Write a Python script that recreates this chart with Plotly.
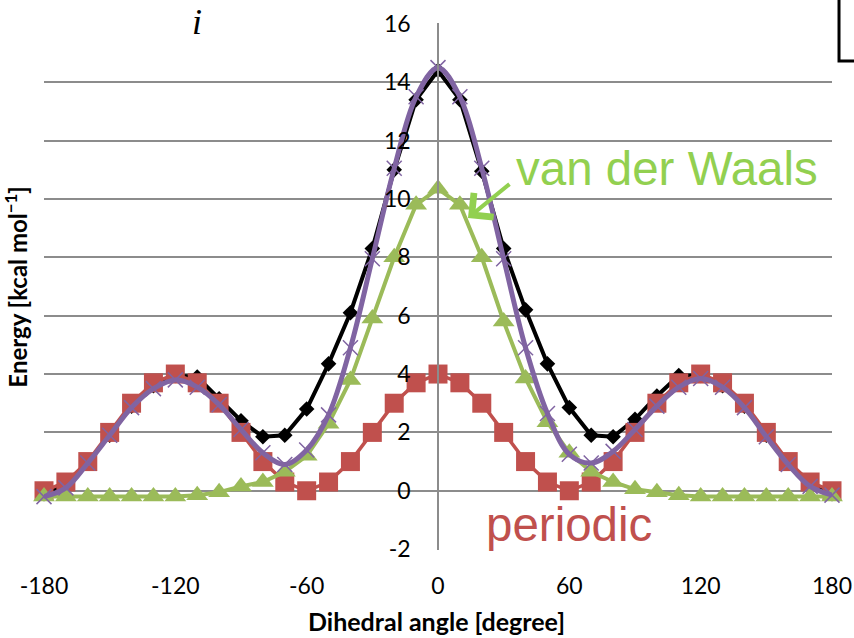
import plotly.graph_objects as go

# ---------------- data ----------------
angles = list(range(-180, 181, 10))

total = [-0.1, 0.25, 0.95, 1.9, 2.9, 3.6, 3.95, 3.9, 3.15, 2.4, 1.85, 1.9, 2.8, 4.35, 6.1, 8.3, 11.0, 13.4, 14.4,
         13.4, 10.95, 8.3, 6.2, 4.35, 2.85, 1.9, 1.85, 2.45, 3.25, 3.95, 3.95, 3.6, 2.9, 1.9, 0.95, 0.25, -0.1]

periodic = [0.0, 0.3, 1.0, 2.0, 3.0, 3.7, 4.0, 3.7, 3.0, 2.0, 1.0, 0.3, 0.0, 0.3, 1.0, 2.0, 3.0, 3.7, 4.0,
            3.7, 3.0, 2.0, 1.0, 0.3, 0.0, 0.3, 1.0, 2.0, 3.0, 3.7, 4.0, 3.7, 3.0, 2.0, 1.0, 0.3, 0.0]

vdw = [-0.2, -0.2, -0.2, -0.2, -0.2, -0.2, -0.2, -0.15, -0.05, 0.15, 0.3, 0.65, 1.2, 2.3, 3.8, 5.9, 8.0, 9.8, 10.35,
       9.8, 8.0, 5.8, 3.85, 2.35, 1.3, 0.65, 0.3, 0.05, -0.05, -0.15, -0.2, -0.2, -0.2, -0.2, -0.2, -0.2, -0.2]

fit = [-0.2, 0.1, 0.95, 1.9, 2.85, 3.5, 3.8, 3.55, 2.95, 2.1, 1.3, 0.9, 1.4, 2.6, 4.9, 7.95, 11.05, 13.5, 14.5,
       13.5, 11.05, 7.95, 4.9, 2.65, 1.25, 0.95, 1.35, 2.1, 2.9, 3.55, 3.85, 3.55, 2.85, 1.85, 0.9, 0.15, -0.15]

x_ticks = [-180, -120, -60, 0, 60, 120, 180]
y_ticks = [-2, 0, 2, 4, 6, 8, 10, 12, 14, 16]

# ---------------- style ----------------
BLACK = "#000000"
RED = "#C0504D"
GREEN = "#9BBB59"
PURPLE = "#8064A2"
LABEL_GREEN = "#92D050"
GRID = "#8C8C8C"
TICK_FONT = dict(family="Lato, Open Sans, sans-serif", size=23, color="#000000")

fig = go.Figure()

fig.add_trace(go.Scatter(
    x=angles, y=total, mode="lines+markers", cliponaxis=False,
    line=dict(color=BLACK, width=4),
    marker=dict(symbol="diamond", size=12, color=BLACK),
    showlegend=False))

fig.add_trace(go.Scatter(
    x=angles, y=periodic, mode="lines+markers", cliponaxis=False,
    line=dict(color=RED, width=3.5),
    marker=dict(symbol="square", size=19, color=RED),
    showlegend=False))

fig.add_trace(go.Scatter(
    x=angles, y=vdw, mode="lines+markers", cliponaxis=False,
    line=dict(color=GREEN, width=4),
    marker=dict(symbol="triangle-up", size=19, color=GREEN),
    showlegend=False))

fig.add_trace(go.Scatter(
    x=angles, y=fit, mode="lines+markers", cliponaxis=False,
    line=dict(color=PURPLE, width=5, shape="spline", smoothing=1.0),
    marker=dict(symbol="x-thin", size=15, color=PURPLE,
                line=dict(color=PURPLE, width=1.5)),
    showlegend=False))

fig.update_layout(
    width=854, height=638,
    margin=dict(l=44, r=22, t=23, b=88, autoexpand=False),
    paper_bgcolor="white", plot_bgcolor="white",
    xaxis=dict(range=[-180, 180], tickvals=x_ticks, ticktext=[str(v) for v in x_ticks],
               showgrid=False, zeroline=False, showline=False, ticks="",
               tickfont=TICK_FONT, ticklabelstandoff=20, automargin=False),
    yaxis=dict(range=[-2.03, 16.03], tickvals=y_ticks, ticktext=[str(v) for v in y_ticks],
               showgrid=True, gridcolor=GRID, gridwidth=2,
               zeroline=False, showline=True, linecolor=GRID, linewidth=1.5,
               anchor="free", position=0.5, ticks="",
               tickfont=TICK_FONT, ticklabelstandoff=22, automargin=False),
)

fig.add_annotation(text="<b>Energy [kcal mol<sup>−1</sup>]</b>", xref="paper", yref="paper",
                   x=-0.036, y=0.499, xanchor="center", yanchor="middle",
                   textangle=-90, showarrow=False,
                   font=dict(family="Lato, sans-serif", size=24, color="black"))
fig.add_annotation(text="<b>Dihedral angle [degree]</b>", xref="paper", yref="paper",
                   x=0.4987, y=-0.1347, xanchor="center", yanchor="middle", showarrow=False,
                   font=dict(family="Lato, sans-serif", size=25, color="black"))
fig.add_annotation(text="<i>i</i>", xref="paper", yref="paper", x=0.194, y=1.002,
                   xanchor="center", yanchor="middle", showarrow=False,
                   font=dict(family="Liberation Serif, DejaVu Serif, serif", size=36, color="black"))
fig.add_annotation(text="van der Waals", xref="paper", yref="paper", x=0.7906, y=0.723,
                   xanchor="center", yanchor="middle", showarrow=False,
                   font=dict(family="Liberation Sans, Arial, sans-serif", size=47.5, color=LABEL_GREEN))
fig.add_annotation(text="periodic", xref="paper", yref="paper", x=0.666, y=0.0493,
                   xanchor="center", yanchor="middle", showarrow=False,
                   font=dict(family="Liberation Sans, Arial, sans-serif", size=47.5, color=RED))
# arrow pointing at the van der Waals curve
fig.add_annotation(text="", x=13.7, y=9.35, xref="x", yref="y", showarrow=True,
                   ax=43, ay=-35, arrowcolor=LABEL_GREEN, arrowwidth=4,
                   arrowhead=4, arrowsize=1.5, standoff=0)

# partial frame of neighbouring panel (top-right corner)
fig.add_shape(type="path", xref="paper", yref="paper",
              path="M 1.0089,1.06 L 1.0089,0.928 L 1.04,0.928",
              line=dict(color="black", width=3))

fig.write_html("out.html", config={"displayModeBar": False},
               post_script="document.body.style.margin='0px';")
